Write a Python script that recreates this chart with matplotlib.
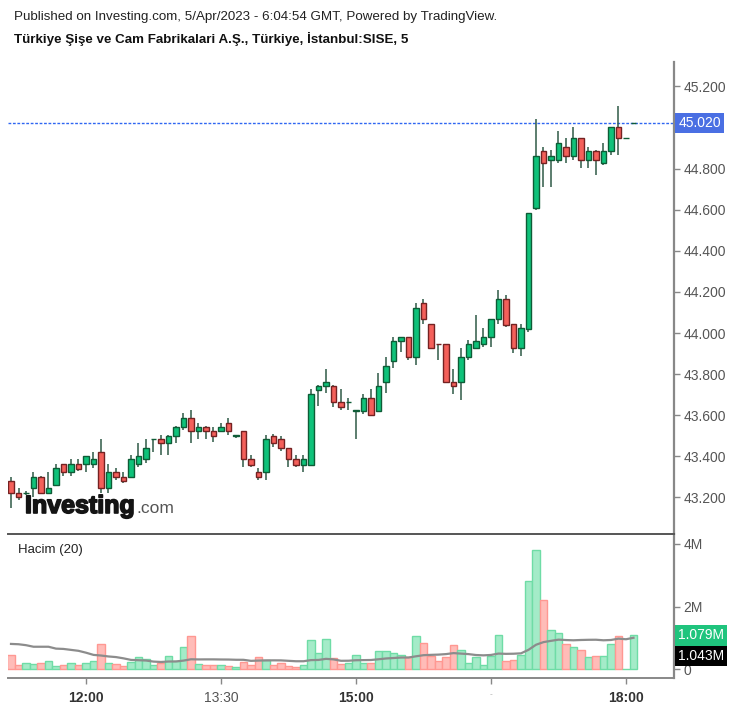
import numpy as np
import matplotlib
matplotlib.use('Agg')
import matplotlib.pyplot as plt
import matplotlib.patheffects as pe
import pandas as pd

plt.rcParams['font.family'] = ['Liberation Sans', 'DejaVu Sans']

# 5 minute candles, 11:10 .. 18:05
opens = [43.280, 43.220, 43.220, 43.244, 43.300, 43.220, 43.260, 43.361, 43.322, 43.361,
         43.361, 43.361, 43.422, 43.244, 43.322, 43.298, 43.298, 43.361, 43.385, 43.483,
         43.483, 43.463, 43.500, 43.544, 43.585, 43.523, 43.541, 43.523, 43.523, 43.561,
         43.500, 43.523, 43.385, 43.324, 43.322, 43.499, 43.483, 43.439, 43.385, 43.358,
         43.358, 43.723, 43.742, 43.742, 43.663, 43.663, 43.622, 43.622, 43.682, 43.622,
         43.760, 43.864, 43.961, 43.979, 43.882, 44.145, 44.042, 43.947, 43.945, 43.760,
         43.760, 43.882, 43.925, 43.945, 43.979, 44.067, 44.164, 44.042, 43.925, 44.019,
         44.607, 44.886, 44.842, 44.842, 44.904, 44.861, 44.947, 44.842, 44.886, 44.826,
         44.886, 45.001, 44.947, 45.020]
highs = [43.298, 43.244, 43.232, 43.325, 43.302, 43.325, 43.361, 43.365, 43.385, 43.385,
         43.403, 43.422, 43.483, 43.361, 43.342, 43.325, 43.406, 43.463, 43.483, 43.485,
         43.504, 43.502, 43.546, 43.609, 43.625, 43.563, 43.546, 43.544, 43.560, 43.585,
         43.502, 43.525, 43.406, 43.345, 43.504, 43.508, 43.499, 43.440, 43.406, 43.406,
         43.726, 43.745, 43.823, 43.745, 43.726, 43.682, 43.625, 43.703, 43.726, 43.804,
         43.885, 43.982, 43.980, 43.980, 44.145, 44.165, 44.045, 43.948, 43.947, 43.823,
         43.925, 43.966, 44.088, 44.023, 44.068, 44.209, 44.185, 44.045, 44.042, 44.585,
         45.044, 44.907, 44.891, 44.984, 44.947, 45.004, 44.950, 44.907, 44.890, 44.923,
         45.003, 45.106, 44.947, 45.020]
lows = [43.147, 43.187, 43.210, 43.203, 43.218, 43.218, 43.255, 43.302, 43.302, 43.330,
        43.325, 43.345, 43.220, 43.223, 43.285, 43.269, 43.296, 43.350, 43.366, 43.422,
        43.406, 43.406, 43.466, 43.528, 43.466, 43.484, 43.484, 43.471, 43.520, 43.504,
        43.490, 43.346, 43.346, 43.285, 43.285, 43.444, 43.427, 43.346, 43.346, 43.325,
        43.356, 43.645, 43.707, 43.641, 43.625, 43.625, 43.484, 43.606, 43.600, 43.620,
        43.707, 43.828, 43.909, 43.869, 43.844, 44.044, 43.920, 43.869, 43.758, 43.703,
        43.674, 43.869, 43.920, 43.930, 43.930, 44.044, 44.028, 43.904, 43.888, 44.006,
        44.600, 44.709, 44.709, 44.829, 44.829, 44.843, 44.804, 44.804, 44.767, 44.820,
        44.866, 44.866, 44.947, 45.020]
closes = [43.220, 43.200, 43.220, 43.298, 43.220, 43.244, 43.342, 43.322, 43.361, 43.340,
          43.401, 43.385, 43.244, 43.322, 43.298, 43.280, 43.385, 43.401, 43.439, 43.483,
          43.463, 43.500, 43.544, 43.585, 43.523, 43.541, 43.523, 43.499, 43.541, 43.523,
          43.500, 43.385, 43.358, 43.298, 43.483, 43.463, 43.439, 43.385, 43.358, 43.385,
          43.702, 43.742, 43.760, 43.663, 43.638, 43.663, 43.622, 43.682, 43.601, 43.744,
          43.839, 43.961, 43.979, 43.882, 44.120, 44.067, 43.925, 43.945, 43.760, 43.742,
          43.882, 43.945, 43.961, 43.979, 44.067, 44.164, 44.039, 43.925, 44.023, 44.582,
          44.861, 44.826, 44.861, 44.923, 44.861, 44.947, 44.842, 44.886, 44.842, 44.886,
          45.001, 44.947, 44.947, 45.020]
# volume in millions
volumes = [0.457, 0.138, 0.213, 0.170, 0.213, 0.266, 0.106, 0.138, 0.213, 0.138,
           0.213, 0.266, 0.809, 0.213, 0.170, 0.106, 0.245, 0.383, 0.330, 0.138,
           0.213, 0.426, 0.266, 0.702, 1.064, 0.170, 0.138, 0.138, 0.138, 0.106,
           0.064, 0.245, 0.138, 0.383, 0.298, 0.138, 0.213, 0.106, 0.064, 0.138,
           0.936, 0.532, 0.968, 0.351, 0.170, 0.213, 0.447, 0.213, 0.213, 0.574,
           0.574, 0.532, 0.447, 0.404, 1.064, 0.851, 0.426, 0.266, 0.383, 0.777,
           0.617, 0.213, 0.383, 0.138, 0.426, 1.096, 0.266, 0.298, 0.457, 2.819,
           3.809, 2.213, 1.255, 1.170, 0.809, 0.702, 0.617, 0.383, 0.426, 0.426,
           0.809, 1.064, 0.0, 1.079]
# volume MA(20) before 20 visible bars exist
ma_head = [0.81, 0.80, 0.77, 0.72, 0.72, 0.72, 0.66, 0.65, 0.62, 0.59,
           0.53, 0.46, 0.44, 0.41, 0.39, 0.35, 0.30, 0.29, 0.28]

xtick_pos = [10, 28, 46, 64, 82]
xtick_labels = ['12:00', '13:30', '15:00', '-', '18:00']
price_ticks = [43.2, 43.4, 43.6, 43.8, 44.0, 44.2, 44.4, 44.6, 44.8, 45.2]
last_price = 45.020
ma_last = 1.043

df = pd.DataFrame({'o': opens, 'h': highs, 'l': lows, 'c': closes, 'v': volumes})
x = np.arange(len(df))
up = df['c'] >= df['o']
ma = df['v'].rolling(20).mean()
ma.iloc[:len(ma_head)] = ma_head

fig = plt.figure(figsize=(7.46, 7.07), dpi=100)
ax = fig.add_axes([8/746, 1-534/707, 666/746, 472/707])
axv = fig.add_axes([8/746, 1-678.3/707, 666/746, 144.3/707], sharex=ax)

# candles
wick_col = '#2f5a46'
ax.vlines(x, df['l'], df['h'], color=wick_col, lw=1.1, zorder=2)
body_b = np.minimum(df['o'], df['c'])
body_h = np.maximum((df['c'] - df['o']).abs(), 0.002)
ax.bar(x[up], body_h[up], bottom=body_b[up], width=0.7, color='#0fc27a',
       edgecolor='#0e5c36', lw=1.0, zorder=3)
ax.bar(x[~up], body_h[~up], bottom=body_b[~up], width=0.7, color='#f4605a',
       edgecolor='#742222', lw=1.0, zorder=3)

ax.axhline(last_price, color='#2f66f2', lw=1.0, ls=(0, (2, 1.2)), zorder=1)
ax.set_xlim(-0.4, 88.4)
ax.set_ylim(43.022, 45.319)
ax.yaxis.tick_right()
ax.set_yticks(price_ticks)
ax.set_yticklabels(['%.3f' % p for p in price_ticks])
ax.tick_params(axis='y', colors='#888888', labelcolor='#555555', labelsize=10,
               length=4, width=1, pad=3)
ax.tick_params(axis='x', bottom=False, labelbottom=False)
for s in ['top', 'left', 'bottom']:
    ax.spines[s].set_visible(False)
ax.spines['right'].set_color('#888888')
ax.spines['right'].set_linewidth(1.6)
ax.annotate('%.3f' % last_price, xy=(1, last_price), xycoords=('axes fraction', 'data'),
            xytext=(3, 0), textcoords='offset points', va='center', ha='left',
            color='white', fontsize=10,
            bbox=dict(boxstyle='square,pad=0.22', fc='#4a6fe3', ec='none'))

# volume
vcol = np.where(up, '#a4ebc8', '#ffbcb8')
vedge = np.where(up, '#6fdca6', '#ff9892')
axv.bar(x, df['v'], width=0.95, color=vcol, edgecolor=vedge, lw=1.0, zorder=2)
axv.plot(x, ma, color='#8c8c8c', lw=1.6, zorder=3)
axv.set_ylim(-0.287, 4.318)
axv.yaxis.tick_right()
axv.set_yticks([0, 2, 4])
axv.set_yticklabels(['0', '2M', '4M'])
axv.tick_params(axis='y', colors='#888888', labelcolor='#555555', labelsize=10,
                length=4, width=1, pad=3)
axv.set_xticks(xtick_pos)
axv.set_xticklabels(xtick_labels)
axv.tick_params(axis='x', colors='#888888', labelcolor='#333333', labelsize=10,
                length=4, width=1, pad=5)
for lab in axv.get_xticklabels():
    if lab.get_text() in ('12:00', '15:00', '18:00'):
        lab.set_fontweight('bold')
    elif lab.get_text() == '-':
        lab.set_color('#aaaaaa')
        lab.set_fontsize(6)
    else:
        lab.set_color('#555555')
axv.spines['left'].set_visible(False)
axv.spines['top'].set_color('#555555')
axv.spines['top'].set_linewidth(1.4)
axv.spines['right'].set_color('#888888')
axv.spines['right'].set_linewidth(1.6)
axv.spines['bottom'].set_color('#888888')
axv.spines['bottom'].set_linewidth(1.4)

last_vol = df['v'].iloc[-1]
axv.annotate('%.3fM' % last_vol, xy=(1, last_vol), xycoords=('axes fraction', 'data'),
             xytext=(3, 0), textcoords='offset points', va='center', ha='left',
             color='white', fontsize=10,
             bbox=dict(boxstyle='square,pad=0.22', fc='#1fc47d', ec='none'))
axv.annotate('%.3fM' % ma_last, xy=(1, last_vol), xycoords=('axes fraction', 'data'),
             xytext=(3, -14.5), textcoords='offset points', va='center', ha='left',
             color='white', fontsize=10,
             bbox=dict(boxstyle='square,pad=0.22', fc='#000000', ec='none'))

fig.text(18/746, 1-550/707, 'Hacim (20)', fontsize=9.5, color='#222222', va='center')

# header
fig.text(14/746, 1-17/707, 'Published on Investing.com, 5/Apr/2023 - 6:04:54 GMT, Powered by TradingView.',
         fontsize=9.6, color='#222222', va='center')
fig.text(14/746, 1-39/707, 'Türkiye Şişe ve Cam Fabrikalari A.Ş., Türkiye, İstanbul:SISE, 5',
         fontsize=9.6, color='#111111', va='center', fontweight='bold')

# logo
fig.text(25/746, 1-513/707, 'Investing', fontsize=18, fontweight='bold',
         color='#141414', va='baseline',
         path_effects=[pe.withStroke(linewidth=1.2, foreground='#141414')])
fig.text(136/746, 1-513/707, '.com', fontsize=12.5, color='#555555', va='baseline')

fig.savefig('out.png', dpi=100)
